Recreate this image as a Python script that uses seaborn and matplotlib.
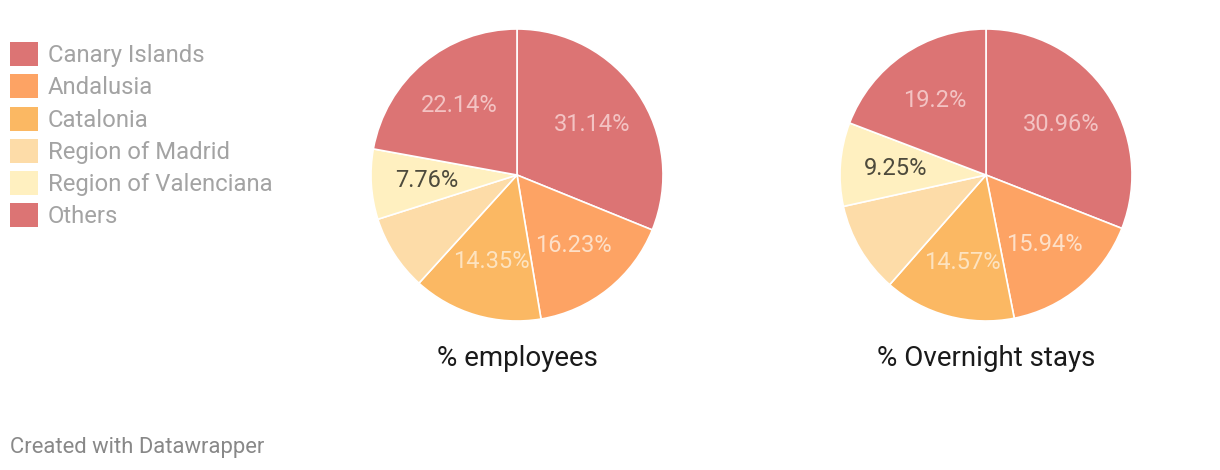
import matplotlib
matplotlib.use("Agg")
import matplotlib.pyplot as plt
import matplotlib.patches as mpatches
import numpy as np
import seaborn as sns

regions = ["Canary Islands", "Andalusia", "Catalonia", "Region of Madrid",
           "Region of Valenciana", "Others"]
employees = [31.14, 16.23, 14.35, 8.38, 7.76, 22.14]
overnight = [30.96, 15.94, 14.57, 10.08, 9.25, 19.2]
titles = ["% employees", "% Overnight stays"]
colors = ["#dc7474", "#fda364", "#fbb863", "#fddca8", "#fff0c0", "#dc7474"]
label_colors = ["#f3c3c3", "#fde0c8", "#fde3c0", None, "#4d4a3c", "#f3c3c3"]

sns.set_theme(style="white")
plt.rcParams['font.family'] = ['Roboto', 'DejaVu Sans']

W, H = 1220, 470
fig = plt.figure(figsize=(W / 100, H / 100), dpi=100)
fig.patch.set_facecolor("white")

R = 146
centers = [(517, 175), (986, 175)]
for (cx, cy), vals, title in zip(centers, [employees, overnight], titles):
    ax = fig.add_axes([(cx - R) / W, 1 - (cy + R) / H, 2 * R / W, 2 * R / H])
    wedges, _ = ax.pie(vals, colors=colors, startangle=90, counterclock=False,
                       wedgeprops=dict(edgecolor="white", linewidth=1.2))
    for w, v, lc in zip(wedges, vals, label_colors):
        if lc is None:
            continue
        ang = np.deg2rad((w.theta1 + w.theta2) / 2)
        r = 0.62
        ax.text(r * np.cos(ang), r * np.sin(ang), f"{v:g}%", ha="center",
                va="center", fontsize=17, color=lc)
    ax.set_xlim(-1, 1)
    ax.set_ylim(-1, 1)
    ax.set_aspect("equal")
    ax.axis("off")
    fig.text(cx / W, 1 - 358 / H, title, ha="center", va="center",
             fontsize=20, color="#1a1a1a")

handles = [mpatches.Patch(facecolor=c, edgecolor="none", label=l)
           for c, l in zip(colors, regions)]
leg = fig.legend(handles=handles, loc="upper left",
                 bbox_to_anchor=(10 / W, 1 - 42 / H), frameon=False,
                 fontsize=17.2, handlelength=1.17, handleheight=1.17,
                 handletextpad=0.42, labelspacing=0.3, borderpad=0,
                 borderaxespad=0)
for t in leg.get_texts():
    t.set_color("#a3a3a3")

fig.text(10 / W, 1 - 447 / H, "Created with Datawrapper", ha="left",
         va="center", fontsize=15.8, color="#888888")

fig.savefig("out.png", dpi=100, facecolor="white")
